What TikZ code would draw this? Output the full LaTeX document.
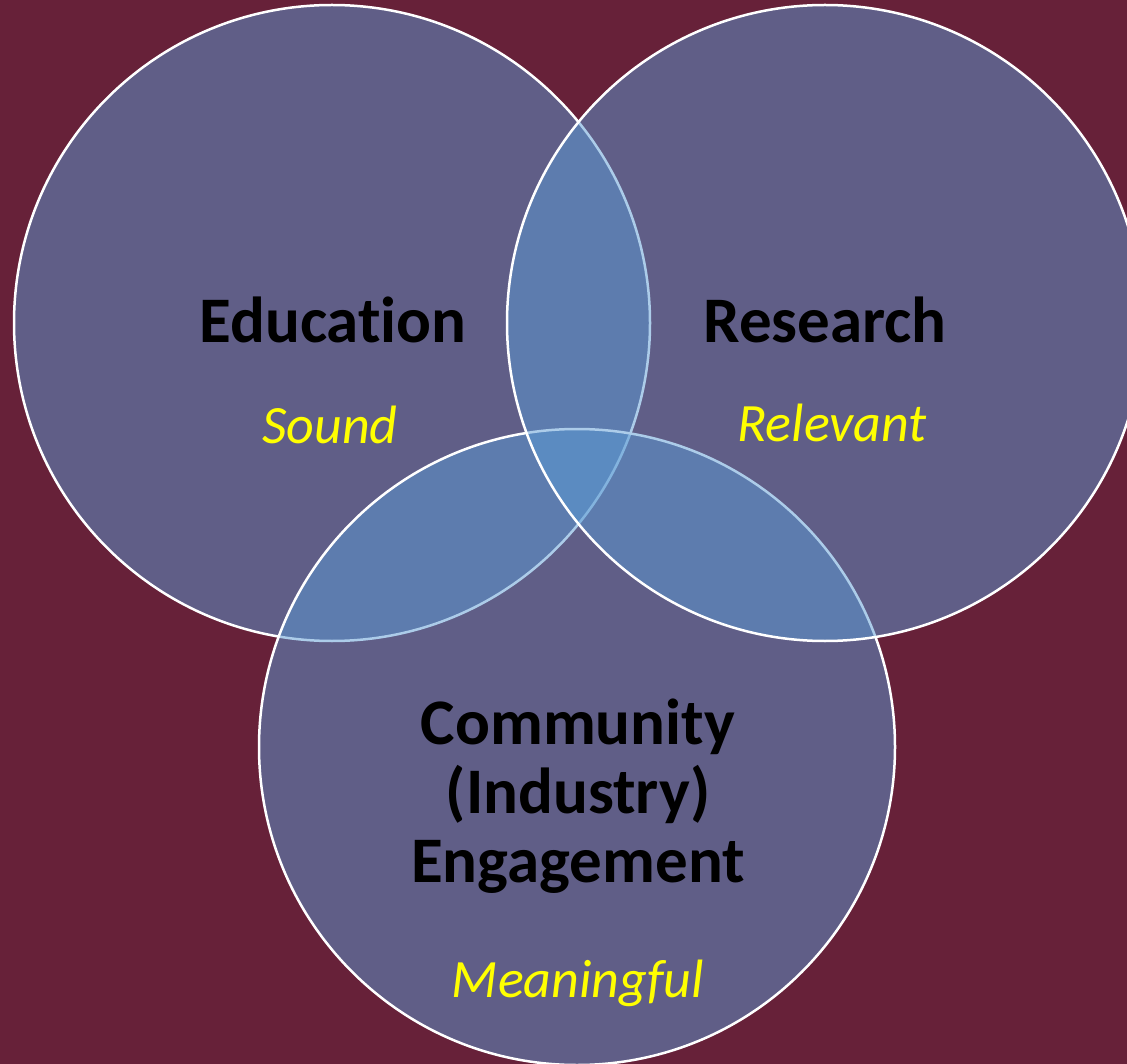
\documentclass[tikz,border=0pt]{standalone}
\usepackage{fontspec}
\setmainfont{Carlito}[Ligatures=NoCommon]
\usetikzlibrary{positioning}
\definecolor{maroonbg}{HTML}{672139}
\definecolor{ringfill}{HTML}{5B9BD5}
\definecolor{mottoyellow}{HTML}{FFFF00}
% one translucent ring of the diagram
\newcommand{\ring}[3]{\node[ring] (#1) at (#2,#3) {};}

\begin{document}
\begin{tikzpicture}[x=1pt, y=-1pt,
    ring/.style={circle, minimum size=636pt, inner sep=0pt, draw=white,
        line width=2.5pt, fill=ringfill, fill opacity=0.5},
    title/.style={font=\fontsize{65}{69}\selectfont\bfseries, text=black,
        align=center, anchor=base},
    motto/.style={font=\fontsize{54}{60}\selectfont\itshape, text=mottoyellow,
        anchor=base}]
    % background
    \fill[maroonbg] (0,0) rectangle (1127,1064);
    \clip (0,0) rectangle (1127,1064);
    % rings: left, bottom, right
    \ring{edu}{332}{323}
    \ring{com}{577}{747}
    \ring{res}{825}{323}
    % titles
    \node[title] (edutitle) at (333,343) {Education};
    \node[title] (restitle) at (825,343) {Research};
    \node[title] (comtitle) at (578,882) {Community\\(Industry)\\Engagement};
    % mottos
    \node[motto] (sound) at (330,443) {Sound};
    \node[motto] (relevant) at (832,441) {Relevant};
    \node[motto] (meaningful) at (578,997) {Meaningful};
\end{tikzpicture}
\end{document}
